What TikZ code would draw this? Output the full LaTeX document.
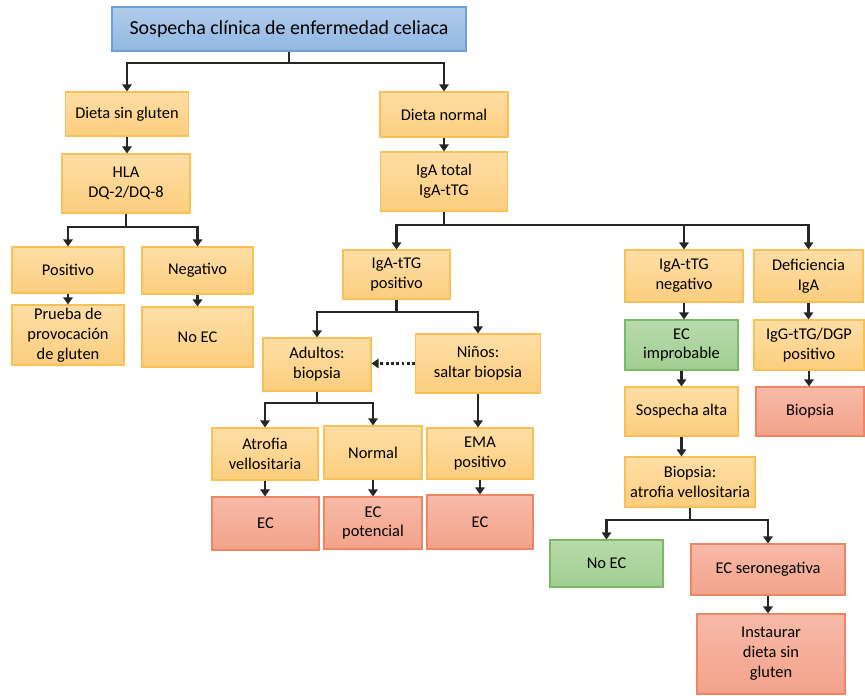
\documentclass[tikz,border=0pt]{standalone}
\usepackage{fontspec}
\setmainfont{Carlito}
\usetikzlibrary{arrows.meta, positioning, calc}
\definecolor{orangetop}{RGB}{254,222,166}
\definecolor{orangebot}{RGB}{252,206,126}
\definecolor{orangeline}{RGB}{248,192,86}
\definecolor{redtop}{RGB}{247,186,168}
\definecolor{redbot}{RGB}{243,162,138}
\definecolor{redline}{RGB}{238,134,100}
\definecolor{greentop}{RGB}{183,218,170}
\definecolor{greenbot}{RGB}{162,206,146}
\definecolor{greenline}{RGB}{125,184,99}
\definecolor{bluetop}{RGB}{176,204,234}
\definecolor{bluebot}{RGB}{146,184,226}
\definecolor{blueline}{RGB}{110,159,214}
\definecolor{arrowgray}{RGB}{38,38,38}
\tikzset{
    box/.style={
        draw=orangeline,
        line width=0.9pt,
        top color=orangetop,
        bottom color=orangebot,
        align=center,
        inner sep=2pt,
        font={\fontsize{14}{17}\selectfont}
    },
    redbox/.style={box, draw=redline, top color=redtop, bottom color=redbot},
    greenbox/.style={box, draw=greenline, top color=greentop, bottom color=greenbot},
    titlebox/.style={box, draw=blueline, top color=bluetop, bottom color=bluebot, font={\fontsize{17}{20}\selectfont}},
    line/.style={-{Triangle[length=6pt,width=8pt]}, line width=2.4pt, draw=arrowgray},
    dashedline/.style={line, dash pattern=on 2.5pt off 2pt}
}
\begin{document}
\begin{tikzpicture}[x=0.03cm, y=-0.03cm]
\useasboundingbox (0,0) rectangle (865,695);

\node[titlebox, minimum width=10.62cm, minimum height=1.32cm] (sospecha) at (289,29) {Sospecha clínica de enfermedad celiaca};

% rama izquierda
\node[box, minimum width=3.69cm, minimum height=1.32cm] (singluten) at (127,114) {Dieta sin gluten};
\node[box, minimum width=3.84cm, minimum height=1.77cm] (hla) at (126,183.5) {HLA\\DQ-2/DQ-8};
\node[box, minimum width=3.36cm, minimum height=1.38cm] (positivo) at (68,270) {Positivo};
\node[box, minimum width=3.36cm, minimum height=1.8cm] (provocacion) at (68,335) {Prueba de\\provocación\\de gluten};
\node[box, minimum width=3.33cm, minimum height=1.41cm] (negativo) at (197.5,270.5) {Negativo};
\node[box, minimum width=3.33cm, minimum height=1.8cm] (noecizq) at (197.5,337) {No EC};

% rama central
\node[box, minimum width=3.84cm, minimum height=1.35cm] (dietanormal) at (444,114.5) {Dieta normal};
\node[box, minimum width=3.81cm, minimum height=1.77cm] (igatotal) at (444,181.5) {IgA total\\IgA-tTG};
\node[box, minimum width=3.21cm, minimum height=1.47cm] (ttgpos) at (396.5,274.5) {IgA-tTG\\positivo};
\node[box, minimum width=3.24cm, minimum height=1.59cm] (adultos) at (317,364.5) {Adultos:\\biopsia};
\node[box, minimum width=3.75cm, minimum height=1.77cm] (ninos) at (478,363.5) {Niños:\\saltar biopsia};
\node[box, minimum width=3.18cm, minimum height=1.56cm] (atrofia) at (265,454) {Atrofia\\vellositaria};
\node[box, minimum width=2.94cm, minimum height=1.59cm] (normal) at (373,452.5) {Normal};
\node[box, minimum width=3.18cm, minimum height=1.53cm] (ema) at (480,453.5) {EMA\\positivo};
\node[redbox, minimum width=3.21cm, minimum height=1.59cm] (ecuno) at (265.5,523.5) {EC};
\node[redbox, minimum width=2.94cm, minimum height=1.56cm] (ecpot) at (373,523) {EC\\potencial};
\node[redbox, minimum width=3.18cm, minimum height=1.62cm] (ecdos) at (480,522) {EC};

% rama derecha
\node[box, minimum width=3.54cm, minimum height=1.56cm] (ttgneg) at (684,276) {IgA-tTG\\negativo};
\node[box, minimum width=3.27cm, minimum height=1.56cm] (deficit) at (808.5,276) {Deficiencia\\IgA};
\node[greenbox, minimum width=3.39cm, minimum height=1.5cm] (improbable) at (681.5,345) {EC\\improbable};
\node[box, minimum width=3.3cm, minimum height=1.5cm] (iggpos) at (809,345) {IgG-tTG/DGP\\positivo};
\node[box, minimum width=3.39cm, minimum height=1.47cm] (alta) at (681.5,411.5) {Sospecha alta};
\node[redbox, minimum width=3.24cm, minimum height=1.47cm] (biopsia) at (810,411.5) {Biopsia};
\node[box, minimum width=3.9cm, minimum height=1.5cm] (biopatrofia) at (690,482) {Biopsia:\\atrofia vellositaria};
\node[greenbox, minimum width=3.39cm, minimum height=1.41cm] (noecder) at (606.5,563.5) {No EC};
\node[redbox, minimum width=4.62cm, minimum height=1.53cm] (seroneg) at (768,569.5) {EC seronegativa};
\node[redbox, minimum width=4.44cm, minimum height=2.4cm] (instaurar) at (771,654) {Instaurar\\dieta sin\\gluten};

% bifurcaciones
\coordinate (j0) at (289,63);
\coordinate (j1) at (126,227);
\coordinate (j2) at (444,225);
\coordinate (j3) at (396.5,312);
\coordinate (j4) at (317,403);
\coordinate (j5) at (690,520);

\draw[line] (sospecha) -- (j0) -| (singluten);
\draw[line] (j0) -| (dietanormal);
\draw[line] (hla) -- (j1) -| (positivo);
\draw[line] (j1) -| (negativo);
\draw[line] (igatotal) -- (j2) -| (ttgpos);
\draw[line] (j2) -| (ttgneg);
\draw[line] (j2) -| (deficit);
\draw[line] (ttgpos) -- (j3) -| (adultos);
\draw[line] (j3) -| (ninos);
\draw[line] (adultos) -- (j4) -| (atrofia);
\draw[line] (j4) -| (normal);
\draw[line] (biopatrofia) -- (j5) -| (noecder);
\draw[line] (j5) -| (seroneg);

% flechas directas
\draw[line] (singluten.south) -- (singluten.south |- hla.north);
\draw[line] (positivo.south) -- (positivo.south |- provocacion.north);
\draw[line] (negativo.south) -- (negativo.south |- noecizq.north);
\draw[line] (dietanormal.south) -- (dietanormal.south |- igatotal.north);
\draw[line] (ninos.south) -- (ninos.south |- ema.north);
\draw[line] (atrofia.south) -- (atrofia.south |- ecuno.north);
\draw[line] (normal.south) -- (normal.south |- ecpot.north);
\draw[line] (ema.south) -- (ema.south |- ecdos.north);
\draw[line] (ttgneg.south) -- (ttgneg.south |- improbable.north);
\draw[line] (improbable.south) -- (improbable.south |- alta.north);
\draw[line] (alta.south) -- (alta.south |- biopatrofia.north);
\draw[line] (deficit.south) -- (deficit.south |- iggpos.north);
\draw[line] (iggpos.south) -- (iggpos.south |- biopsia.north);
\draw[line] (seroneg.south) -- (seroneg.south |- instaurar.north);
\draw[dashedline] (ninos.west) -- (ninos.west -| adultos.east);
\end{tikzpicture}
\end{document}
